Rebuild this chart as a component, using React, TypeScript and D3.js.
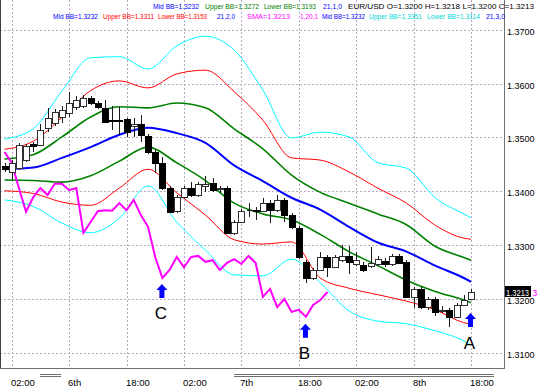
import React from 'react';
import * as d3 from 'd3';

// EUR/USD hourly candles, oldest first
const opens = [1.3447, 1.3436, 1.3443, 1.3458, 1.3488, 1.3486, 1.3518, 1.3527, 1.3538, 1.3545,
  1.3557, 1.3558, 1.3573, 1.3564, 1.3555, 1.3532, 1.3532, 1.3534, 1.3521, 1.3525,
  1.3503, 1.3473, 1.3453, 1.3406, 1.3363, 1.3389, 1.3406, 1.3393, 1.3410, 1.3415,
  1.3404, 1.3406, 1.3323, 1.3343, 1.3365, 1.3365, 1.3363, 1.3378, 1.3365, 1.3384,
  1.3356, 1.3332, 1.3269, 1.3239, 1.3254, 1.3278, 1.3259, 1.3272, 1.3280, 1.3265,
  1.3263, 1.3261, 1.3265, 1.3271, 1.3265, 1.3280, 1.3269, 1.3204, 1.3219, 1.3185,
  1.3200, 1.3178, 1.3180, 1.3167, 1.3189, 1.3200];
const highs = [1.3453, 1.3458, 1.3490, 1.3488, 1.3492, 1.3525, 1.3555, 1.3553, 1.3558, 1.3584,
  1.3577, 1.3579, 1.3577, 1.3568, 1.3570, 1.3558, 1.3557, 1.3536, 1.3536, 1.3542,
  1.3506, 1.3477, 1.3464, 1.3410, 1.3393, 1.3410, 1.3417, 1.3417, 1.3428, 1.3425,
  1.3410, 1.3410, 1.3347, 1.3367, 1.3378, 1.3371, 1.3388, 1.3384, 1.3393, 1.3388,
  1.3360, 1.3336, 1.3272, 1.3258, 1.3287, 1.3282, 1.3282, 1.3300, 1.3298, 1.3287,
  1.3269, 1.3297, 1.3280, 1.3276, 1.3284, 1.3284, 1.3272, 1.3222, 1.3222, 1.3204,
  1.3204, 1.3187, 1.3183, 1.3193, 1.3207, 1.3218];
const lows = [1.3436, 1.3421, 1.3440, 1.3454, 1.3473, 1.3484, 1.3510, 1.3521, 1.3527, 1.3538,
  1.3551, 1.3555, 1.3560, 1.3553, 1.3527, 1.3514, 1.3505, 1.3501, 1.3501, 1.3492,
  1.3469, 1.3434, 1.3402, 1.3360, 1.3360, 1.3386, 1.3389, 1.3389, 1.3399, 1.3399,
  1.3397, 1.3321, 1.3319, 1.3341, 1.3352, 1.3347, 1.3362, 1.3341, 1.3362, 1.3343,
  1.3330, 1.3274, 1.3230, 1.3235, 1.3252, 1.3241, 1.3258, 1.3269, 1.3246, 1.3261,
  1.3250, 1.3258, 1.3261, 1.3259, 1.3261, 1.3265, 1.3202, 1.3183, 1.3181, 1.3180,
  1.3168, 1.3174, 1.3148, 1.3165, 1.3187, 1.3200];
const closes = [1.3441, 1.3453, 1.3486, 1.3484, 1.3484, 1.3514, 1.3536, 1.3547, 1.3551, 1.3564,
  1.3570, 1.3573, 1.3564, 1.3557, 1.3529, 1.3531, 1.3531, 1.3510, 1.3525, 1.3505,
  1.3473, 1.3453, 1.3406, 1.3362, 1.3389, 1.3406, 1.3393, 1.3414, 1.3414, 1.3402,
  1.3406, 1.3323, 1.3343, 1.3363, 1.3365, 1.3364, 1.3378, 1.3365, 1.3384, 1.3356,
  1.3334, 1.3278, 1.3239, 1.3254, 1.3278, 1.3259, 1.3278, 1.3280, 1.3269, 1.3272,
  1.3254, 1.3267, 1.3274, 1.3265, 1.3280, 1.3267, 1.3204, 1.3219, 1.3185, 1.3200,
  1.3176, 1.3180, 1.3167, 1.3189, 1.3198, 1.3213];

// bollinger bands (21) read at every 4th bar
const bandBars = [0, 4, 8, 12, 16, 20, 24, 28, 32, 36, 40, 44, 48, 52, 56, 60, 64, 65];
const midBand = [1.3441, 1.3444, 1.3462, 1.3482, 1.3505, 1.3518, 1.3508, 1.3490, 1.3448, 1.3419, 1.3388, 1.3366, 1.3334, 1.3305, 1.3288, 1.3262, 1.3239, 1.3232];
const upper1 = [1.3460, 1.3468, 1.3501, 1.3538, 1.3557, 1.3555, 1.3564, 1.3555, 1.3516, 1.3479, 1.3430, 1.3398, 1.3378, 1.3358, 1.3338, 1.3298, 1.3277, 1.3272];
const lower1 = [1.3421, 1.3420, 1.3417, 1.3429, 1.3456, 1.3482, 1.3453, 1.3420, 1.3378, 1.3358, 1.3347, 1.3320, 1.3288, 1.3262, 1.3235, 1.3214, 1.3198, 1.3193];
const upper2 = [1.3478, 1.3493, 1.3537, 1.3587, 1.3605, 1.3592, 1.3618, 1.3625, 1.3585, 1.3532, 1.3462, 1.3458, 1.3436, 1.3406, 1.3378, 1.3337, 1.3313, 1.3311];
const lower2 = [1.3401, 1.3396, 1.3380, 1.3374, 1.3406, 1.3441, 1.3397, 1.3356, 1.3310, 1.3302, 1.3306, 1.3239, 1.3220, 1.3208, 1.3196, 1.3180, 1.3156, 1.3153];
const upper3 = [1.3497, 1.3516, 1.3586, 1.3648, 1.3650, 1.3627, 1.3670, 1.3688, 1.3662, 1.3588, 1.3499, 1.3510, 1.3501, 1.3453, 1.3443, 1.3388, 1.3358, 1.3351];
const lower3 = [1.3384, 1.3372, 1.3341, 1.3323, 1.3350, 1.3410, 1.3343, 1.3291, 1.3245, 1.3243, 1.3274, 1.3230, 1.3178, 1.3159, 1.3154, 1.3141, 1.3122, 1.3114];

// SMA(1) shifted 20 bars back, bars 0..45
const smaLine = [1.3473, 1.3453, 1.3406, 1.3362, 1.3389, 1.3406, 1.3393, 1.3414, 1.3414, 1.3402,
  1.3406, 1.3323, 1.3343, 1.3363, 1.3365, 1.3364, 1.3378, 1.3365, 1.3384, 1.3356,
  1.3334, 1.3278, 1.3239, 1.3254, 1.3278, 1.3259, 1.3278, 1.3280, 1.3269, 1.3272,
  1.3254, 1.3267, 1.3274, 1.3265, 1.3280, 1.3267, 1.3204, 1.3219, 1.3185, 1.3200,
  1.3176, 1.3180, 1.3167, 1.3189, 1.3198, 1.3213];

const priceTicks = [1.31, 1.32, 1.33, 1.34, 1.35, 1.36, 1.37];
const timeTickBars = [1, 9, 17, 25, 33, 41, 49, 57, 65];
const timeTickLabels = ['02:00', '6th', '18:00', '02:00', '7th', '18:00', '02:00', '8th', '18:00'];

const arrowBars = [22, 42, 65];
const arrowTips = [1.3228, 1.3154, 1.3174];
const arrowLabels = ['C', 'B', 'A'];

const lastPrice = 1.3213;

// legend pieces: text, colour, left x, width
const legendTop: [string, string, number, number][] = [
  ['Mid BB=1.3232', '#0000ff', 153, 46], ['Upper BB=1.3272', '#008000', 205, 54],
  ['Lower BB=1.3193', '#008000', 264, 52], ['21,1,0', '#0000ff', 323, 19],
  ['EUR/USD O=1.3200 H=1.3218 L=1.3200 C=1.3213', '#000000', 348, 186],
];
const legendBottom: [string, string, number, number][] = [
  ['Mid BB=1.3232', '#0000ff', 53, 45], ['Upper BB=1.3311', '#ff0000', 103, 51],
  ['Lower BB=1.3153', '#ff0000', 158, 49], ['21,2,0', '#0000ff', 217, 18],
  ['SMA=1.3213', '#ff00ff', 247, 43], ['1,20,1', '#ff00ff', 300, 18],
  ['Mid BB=1.3232', '#0000ff', 322, 43], ['Upper BB=1.3351', '#00d8d8', 369, 53],
  ['Lower BB=1.3114', '#00d8d8', 427, 53], ['21,3,0', '#0000ff', 486, 19],
];

const FONT = '"Liberation Sans", Arial, sans-serif';

export default function App() {
  const width = 541;
  const height = 389;
  const plotRight = 504;
  const plotBottom = 368;

  const x = d3.scaleLinear().domain([0, 65]).range([4.5, 471]);
  const y = d3.scaleLinear().domain([1.31, 1.37]).range([352.85, 29.75]);

  const band = d3.line<number>()
    .x((_, i) => x(bandBars[i]))
    .y(d => y(d))
    .curve(d3.curveMonotoneX);
  const sma = d3.line<number>()
    .x((_, i) => x(i))
    .y(d => y(d));

  const grid = '#b8a8c0';
  const bodyW = 6;
  const lastY = Math.round(y(lastPrice));

  return (
    <svg width={width} height={height} style={{ position: 'absolute', left: 0, top: 0, background: '#fff' }}
      fontFamily={FONT}>
      <rect x={0} y={0} width={width} height={height} fill="#fff" />

      {/* grid */}
      <g stroke={grid} strokeDasharray="2,2" shapeRendering="crispEdges">
        {priceTicks.map(p => (
          <line key={p} x1={0} x2={plotRight} y1={Math.round(y(p)) + 0.5} y2={Math.round(y(p)) + 0.5} />
        ))}
        {timeTickBars.map(b => (
          <line key={b} x1={Math.round(x(b)) + 0.5} x2={Math.round(x(b)) + 0.5} y1={0} y2={plotBottom} />
        ))}
      </g>

      {/* bands */}
      <g fill="none">
        <path d={band(upper3) || ''} stroke="#00ffff" strokeWidth={1} />
        <path d={band(lower3) || ''} stroke="#00ffff" strokeWidth={1} />
        <path d={band(upper2) || ''} stroke="#ff0000" strokeWidth={1} />
        <path d={band(lower2) || ''} stroke="#ff0000" strokeWidth={1} />
        <path d={band(upper1) || ''} stroke="#008000" strokeWidth={1.6} />
        <path d={band(lower1) || ''} stroke="#008000" strokeWidth={1.6} />
        <path d={band(midBand) || ''} stroke="#0000ff" strokeWidth={2} />
        <path d={sma(smaLine) || ''} stroke="#ff00ff" strokeWidth={2} />
      </g>

      {/* candles */}
      <g shapeRendering="crispEdges">
        {closes.map((c, i) => {
          const o = opens[i];
          const cx = Math.round(x(i)) + 0.5;
          const top = Math.round(y(Math.max(o, c)));
          const bot = Math.round(y(Math.min(o, c)));
          const bull = c >= o;
          return (
            <g key={i}>
              <line x1={cx} x2={cx} y1={Math.round(y(highs[i]))} y2={Math.round(y(lows[i]))} stroke="#1a1a1a" />
              {bot - top < 1 ? (
                <line x1={cx - bodyW / 2} x2={cx + bodyW / 2} y1={top + 0.5} y2={top + 0.5} stroke="#1a1a1a" />
              ) : (
                <rect x={cx - bodyW / 2} y={top + 0.5} width={bodyW} height={bot - top}
                  fill={bull ? '#ffffff' : '#000000'} stroke={bull ? '#303030' : '#000000'} />
              )}
            </g>
          );
        })}
      </g>

      {/* arrows and labels */}
      {arrowBars.map((b, i) => {
        const ax = x(b) - 0.5;
        const ay = y(arrowTips[i]);
        const pts: [number, number][] = [
          [ax, ay], [ax + 5.5, ay + 6], [ax + 2.5, ay + 6], [ax + 2.5, ay + 14],
          [ax - 2.5, ay + 14], [ax - 2.5, ay + 6], [ax - 5.5, ay + 6],
        ];
        return (
          <g key={arrowLabels[i]}>
            <polygon points={pts.map(p => p.join(',')).join(' ')} fill="#0000ff" />
            <text x={ax - 1} y={ay + 35.5} textAnchor="middle" fontSize={17} fill="#000">{arrowLabels[i]}</text>
          </g>
        );
      })}

      {/* frame */}
      <g stroke="#707070" shapeRendering="crispEdges">
        <line x1={0.5} x2={0.5} y1={0} y2={plotBottom + 0.5} stroke="#404040" />
        <line x1={plotRight + 0.5} x2={plotRight + 0.5} y1={0} y2={plotBottom + 0.5} />
        <line x1={0} x2={plotRight + 0.5} y1={plotBottom + 0.5} y2={plotBottom + 0.5} />
        <line x1={40} x2={61} y1={374.5} y2={374.5} />
        <line x1={40} x2={61} y1={376.5} y2={376.5} />
        <line x1={234} x2={494} y1={374.5} y2={374.5} />
        <line x1={234} x2={494} y1={376.5} y2={376.5} />
      </g>

      {/* price axis */}
      {priceTicks.map(p => (
        <text key={p} x={507} y={Math.round(y(p)) + 5} fontSize={9} fill="#000">{p.toFixed(4)}</text>
      ))}
      <rect x={505} y={lastY - 6} width={26} height={11} fill="#000" />
      <text x={506} y={lastY + 3.5} fontSize={8.5} fill="#fff" textLength={23} lengthAdjust="spacingAndGlyphs">
        {lastPrice.toFixed(4)}
      </text>
      <text x={532.5} y={lastY + 3.5} fontSize={8.5} fill="#ff00ff">3</text>

      {/* time axis */}
      {timeTickBars.map((b, i) => (
        <text key={b} x={Math.round(x(b)) - 1} y={386} fontSize={9.5} fill="#000">{timeTickLabels[i]}</text>
      ))}

      {/* legend */}
      {legendTop.map(([t, c, lx, w], i) => (
        <text key={'t' + i} x={lx} y={8.5} fontSize={7.2} fill={c} textLength={w} lengthAdjust="spacingAndGlyphs">{t}</text>
      ))}
      {legendBottom.map(([t, c, lx, w], i) => (
        <text key={'b' + i} x={lx} y={18.5} fontSize={7} fill={c} textLength={w} lengthAdjust="spacingAndGlyphs">{t}</text>
      ))}
    </svg>
  );
}
